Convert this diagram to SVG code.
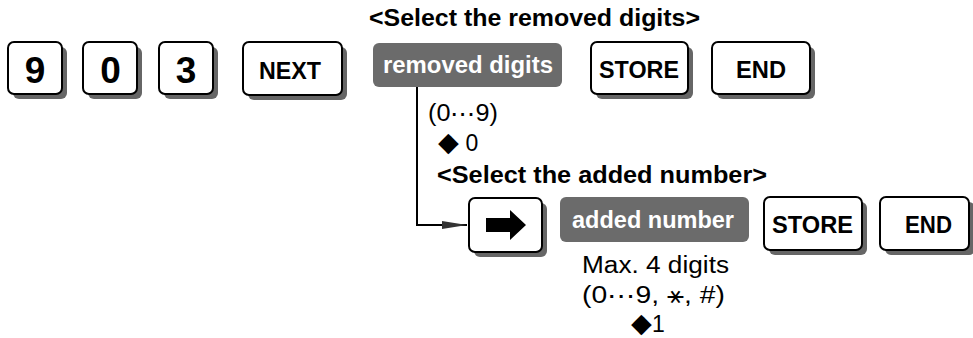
<svg xmlns="http://www.w3.org/2000/svg" width="973" height="338" viewBox="0 0 973 338">
<defs>
<style>
.sh{fill:#666}
.key{fill:#fff;stroke:#000;stroke-width:2}
.lbl{fill:#6b6b6b}
text{font-family:"Liberation Sans",Arial,sans-serif}
.kd{font-size:37px;font-weight:bold;fill:#000;text-anchor:middle}
.kw{font-size:23px;font-weight:bold;fill:#000}
.lt{font-size:23px;font-weight:bold;fill:#fff}
.hd{font-size:23px;font-weight:bold;fill:#000}
.tx{font-size:23px;fill:#000}
.dm{font-size:27px}
</style>
<marker id="ah" markerWidth="26" markerHeight="10" refX="25" refY="5" orient="auto" markerUnits="userSpaceOnUse">
<path d="M0,1 L25,5 L0,9 Z" fill="#333"/>
</marker>
</defs>
<rect width="973" height="338" fill="#fff"/>

<text class="hd" x="369" y="26" textLength="331" lengthAdjust="spacingAndGlyphs">&lt;Select the removed digits&gt;</text>

<g id="key9">
<rect class="sh" x="13" y="47" width="54" height="52" rx="6"/>
<rect class="key" x="8" y="42" width="54" height="52" rx="6"/>
<text class="kd" x="35" y="83">9</text>
</g>
<g id="key0">
<rect class="sh" x="88" y="47" width="54" height="52" rx="6"/>
<rect class="key" x="83" y="42" width="54" height="52" rx="6"/>
<text class="kd" x="110.5" y="83">0</text>
</g>
<g id="key3">
<rect class="sh" x="164" y="47" width="54" height="52" rx="6"/>
<rect class="key" x="159" y="42" width="54" height="52" rx="6"/>
<text class="kd" x="186" y="83">3</text>
</g>
<g id="next">
<rect class="sh" x="248" y="47" width="99" height="53" rx="6"/>
<rect class="key" x="243" y="42" width="99" height="53" rx="6"/>
<text class="kw" x="259" y="79" textLength="62" lengthAdjust="spacingAndGlyphs">NEXT</text>
</g>
<g id="removed">
<rect class="lbl" x="373" y="43" width="189" height="44" rx="6"/>
<text class="lt" x="383" y="73" textLength="170" lengthAdjust="spacingAndGlyphs">removed digits</text>
</g>
<g id="store1">
<rect class="sh" x="596" y="47" width="97" height="52" rx="6"/>
<rect class="key" x="591" y="42" width="97" height="52" rx="6"/>
<text class="kw" x="599" y="78" textLength="80" lengthAdjust="spacingAndGlyphs">STORE</text>
</g>
<g id="end1">
<rect class="sh" x="717" y="47" width="98" height="52" rx="6"/>
<rect class="key" x="712" y="42" width="98" height="52" rx="6"/>
<text class="kw" x="736" y="78" textLength="50" lengthAdjust="spacingAndGlyphs">END</text>
</g>

<text class="tx" x="428" y="121" textLength="70" lengthAdjust="spacingAndGlyphs">(0⋯9)</text>
<text class="tx" x="438" y="151"><tspan class="dm">◆</tspan> 0</text>

<text class="hd" x="437" y="183" textLength="330" lengthAdjust="spacingAndGlyphs">&lt;Select the added number&gt;</text>

<g id="connectors">
<path d="M417,87 V225 H467" fill="none" stroke="#000" stroke-width="2" marker-end="url(#ah)"/>
</g>

<g id="arrowkey">
<rect class="sh" x="474" y="203" width="73" height="54" rx="6"/>
<rect class="key" x="469" y="198" width="73" height="54" rx="6"/>
<polygon points="486,218 510,218 510,210 526,225 510,240 510,232 486,232" fill="#000"/>
</g>
<g id="added">
<rect class="lbl" x="560" y="197" width="189" height="45" rx="6"/>
<text class="lt" x="572" y="228" textLength="162" lengthAdjust="spacingAndGlyphs">added number</text>
</g>
<g id="store2">
<rect class="sh" x="769" y="202" width="98" height="53" rx="6"/>
<rect class="key" x="764" y="197" width="98" height="53" rx="6"/>
<text class="kw" x="772" y="233" textLength="81" lengthAdjust="spacingAndGlyphs">STORE</text>
</g>
<g id="end2">
<rect class="sh" x="885" y="202" width="90" height="53" rx="6"/>
<rect class="key" x="880" y="197" width="89" height="53" rx="6"/>
<text class="kw" x="905" y="233" textLength="47" lengthAdjust="spacingAndGlyphs">END</text>
</g>

<text class="tx" x="582" y="273" textLength="147" lengthAdjust="spacingAndGlyphs">Max. 4 digits</text>
<text class="tx" x="582" y="303" textLength="143" lengthAdjust="spacingAndGlyphs">(0⋯9, ⚹, #)</text>
<text class="tx" x="631" y="332"><tspan class="dm">◆</tspan>1</text>
</svg>
